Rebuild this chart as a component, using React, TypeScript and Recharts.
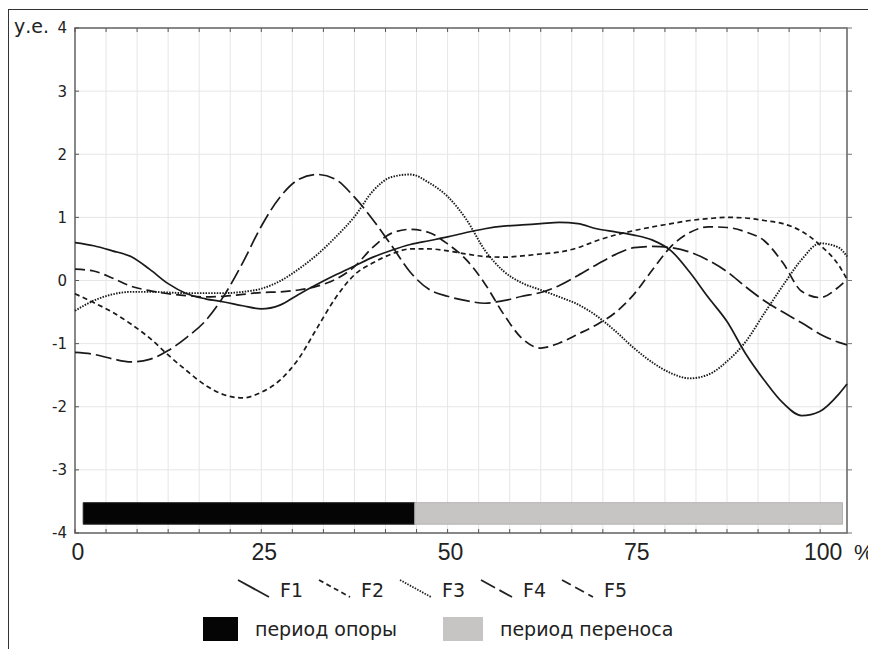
import React from 'react';
import { LineChart, Line, XAxis, YAxis, CartesianGrid, ReferenceArea } from 'recharts';

// % of gait cycle
const pct = [0, 2.5, 5, 7.5, 10, 12.5, 15, 17.5, 20, 22.5, 25, 27.5, 30, 32.5, 35, 37.5, 40, 42.5, 45, 47.5, 50,
  52.5, 55, 57.5, 60, 62.5, 65, 67.5, 70, 72.5, 75, 77.5, 80, 82.5, 85, 87.5, 90, 92.5, 95, 97.5, 100, 102.5, 103.6];

const f1 = [0.6, 0.55, 0.47, 0.38, 0.18, -0.05, -0.21, -0.29, -0.34, -0.4, -0.45, -0.39, -0.22, -0.06, 0.09, 0.23, 0.37,
  0.48, 0.57, 0.63, 0.69, 0.76, 0.82, 0.86, 0.88, 0.9, 0.92, 0.9, 0.82, 0.77, 0.72, 0.64, 0.47, 0.13, -0.27, -0.65,
  -1.16, -1.58, -1.94, -2.14, -2.07, -1.8, -1.64];
const f2 = [-0.21, -0.35, -0.5, -0.69, -0.91, -1.18, -1.43, -1.66, -1.81, -1.86, -1.77, -1.58, -1.24, -0.75, -0.27,
  0.09, 0.28, 0.42, 0.5, 0.5, 0.47, 0.42, 0.38, 0.37, 0.39, 0.42, 0.45, 0.52, 0.63, 0.72, 0.79, 0.85, 0.9, 0.95, 0.98,
  1.0, 0.99, 0.95, 0.9, 0.78, 0.56, 0.24, 0.02];
const f3 = [-0.48, -0.32, -0.22, -0.18, -0.18, -0.19, -0.2, -0.2, -0.2, -0.18, -0.13, -0.01, 0.18, 0.41, 0.69, 1.01,
  1.42, 1.64, 1.68, 1.55, 1.33, 0.97, 0.48, 0.15, -0.04, -0.15, -0.26, -0.38, -0.56, -0.8, -1.07, -1.3, -1.47, -1.55,
  -1.49, -1.28, -0.97, -0.52, -0.08, 0.33, 0.59, 0.52, 0.38];
const f4 = [-1.14, -1.17, -1.24, -1.29, -1.25, -1.11, -0.9, -0.64, -0.24, 0.28, 0.86, 1.32, 1.6, 1.68, 1.6, 1.32, 0.96,
  0.55, 0.13, -0.14, -0.25, -0.32, -0.36, -0.32, -0.25, -0.19, -0.08, 0.08, 0.25, 0.41, 0.52, 0.54, 0.52, 0.45, 0.32,
  0.14, -0.1, -0.32, -0.5, -0.67, -0.85, -0.98, -1.02];
const f5 = [0.18, 0.15, 0.04, -0.09, -0.16, -0.21, -0.24, -0.26, -0.25, -0.22, -0.19, -0.18, -0.15, -0.09, 0.02, 0.22,
  0.53, 0.75, 0.81, 0.76, 0.58, 0.33, -0.05, -0.53, -0.92, -1.07, -0.99, -0.85, -0.7, -0.51, -0.22, 0.17, 0.54, 0.76,
  0.85, 0.84, 0.77, 0.63, 0.28, -0.17, -0.27, -0.1, 0.02];

const seriesNames = ['F1', 'F2', 'F3', 'F4', 'F5'];
const seriesValues = [f1, f2, f3, f4, f5];
const dashes = ['', '5 3.5', '1.5 1.3', '16 5', '10 5'];

const phaseNames = ['период опоры', 'период переноса'];
const phaseStart = [1.1, 45.6];
const phaseEnd = [45.6, 103.0];
const phaseColors = ['#050505', '#c7c4c4'];

const yTicks = [-4, -3, -2, -1, 0, 1, 2, 3, 4];
const xLabels = [0, 25, 50, 75, 100];
const X_MAX = 103.6;
const gridTicks = Array.from({ length: 25 }, (_, i) => (i * 100) / 24);

const PLOT_W = 772;
const PLOT_H = 505;

const data = pct.map((x, i) => {
  const row: Record<string, number> = { x };
  seriesNames.forEach((n, k) => (row[n] = seriesValues[k][i]));
  return row;
});

const XTick = (props: any) => {
  const { x, y, payload } = props;
  const lab = xLabels.find((l) => Math.abs(l - payload.value) < 0.01);
  return (
    <g>
      <line x1={x} x2={x} y1={y} y2={y - 4} stroke="#555" />
      <line x1={x} x2={x} y1={y - PLOT_H} y2={y - PLOT_H + 4} stroke="#555" />
      {lab !== undefined && (
        <text x={x + 3} y={y + 27} textAnchor="middle" fontSize={23} fill="#222"
          fontFamily="'Liberation Sans Narrow', 'Liberation Sans', sans-serif">
          {lab}
        </text>
      )}
    </g>
  );
};

const YTick = (props: any) => {
  const { x, y, payload } = props;
  return (
    <g>
      <line x1={x} x2={x + 4} y1={y} y2={y} stroke="#555" />
      <line x1={x + PLOT_W} x2={x + PLOT_W + 5} y1={y} y2={y} stroke="#777" />
      <text x={x - 8} y={y} dy="0.36em" textAnchor="end" fontSize={15} fill="#222"
        fontFamily="'DejaVu Sans', sans-serif">
        {payload.value}
      </text>
    </g>
  );
};

const Legends = () => (
  <svg width={868} height={641} style={{ position: 'absolute', left: 0, top: 0, pointerEvents: 'none' }}
    fontFamily="'DejaVu Sans', sans-serif" fill="#222">
    <text x={6} y={25} fontSize={19}>у.е.</text>
    <text x={846} y={552} fontSize={22} fontFamily="'Liberation Sans', sans-serif">%</text>
    {seriesNames.map((n, i) => {
      const sx = 230 + i * 81;
      return (
        <g key={n}>
          <line x1={sx} y1={572} x2={sx + 31} y2={589} stroke="#222" strokeWidth={1.8}
            strokeDasharray={dashes[i] || undefined} />
          <text x={sx + 42} y={589} fontSize={19}>{n}</text>
        </g>
      );
    })}
    {phaseNames.map((n, i) => {
      const bx = i === 0 ? 195 : 435;
      const bw = i === 0 ? 35 : 40;
      return (
        <g key={n}>
          <rect x={bx} y={609} width={bw} height={24} fill={phaseColors[i]} />
          <text x={bx + bw + 17} y={628} fontSize={19}>{n}</text>
        </g>
      );
    })}
  </svg>
);

export default function App() {
  return (
    <div style={{ position: 'relative', width: 868, height: 641, background: '#fff' }}>
      <div style={{ position: 'absolute', left: -1, top: 1, width: 869, height: 640,
        borderTop: '1.5px solid #333', borderLeft: '2px solid #333' }} />
      <div style={{ position: 'absolute', left: 0, top: 0 }}>
        <LineChart width={860} height={560} data={data} margin={{ top: 20, right: 21, left: 0, bottom: 5 }}>
          <CartesianGrid stroke="#e6e6e6" strokeWidth={1} />
          <XAxis dataKey="x" type="number" domain={[0, X_MAX]} ticks={gridTicks} interval={0}
            tick={<XTick />} tickSize={0} tickMargin={0} tickLine={false} axisLine={false} height={30} />
          <YAxis type="number" domain={[-4, 4]} ticks={yTicks} interval={0} tick={<YTick />}
            tickSize={0} tickMargin={0} tickLine={false} axisLine={false} width={67} />
          {phaseNames.map((n, i) => (
            <ReferenceArea key={n} x1={phaseStart[i]} x2={phaseEnd[i]} y1={-3.86} y2={-3.52}
              fill={phaseColors[i]} fillOpacity={1} stroke={i === 0 ? '#222' : '#b5b2b2'} />
          ))}
          <ReferenceArea x1={0} x2={X_MAX} y1={-4} y2={4} fill="none" stroke="#666" strokeWidth={1.5} />
          {seriesNames.map((n, i) => (
            <Line key={n} dataKey={n} type="monotone" stroke="#1a1a1a" strokeWidth={i === 2 ? 1.9 : 1.7}
              strokeDasharray={dashes[i] || undefined} dot={false} activeDot={false}
              isAnimationActive={false} />
          ))}
        </LineChart>
      </div>
      <Legends />
    </div>
  );
}
